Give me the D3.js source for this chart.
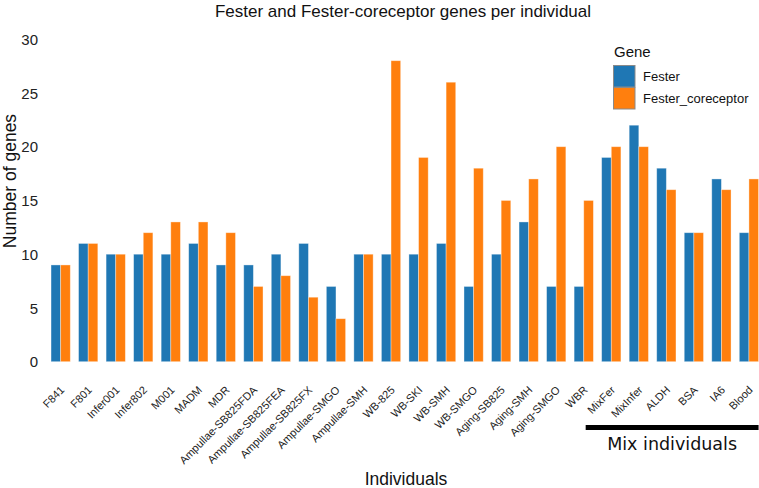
<!DOCTYPE html>
<html>
<head>
<meta charset="utf-8">
<script src="https://cdn.jsdelivr.net/npm/d3@7"></script>
<style>
  html, body { margin: 0; padding: 0; background: #fff; }
  svg { display: block; }
</style>
</head>
<body>
<svg id="chart" width="759" height="488"></svg>
<script>
const individuals = ["F841","F801","Infer001","Infer802","M001","MADM","MDR",
  "Ampullae-SB825FDA","Ampullae-SB825FEA","Ampullae-SB825FX","Ampullae-SMGO","Ampullae-SMH",
  "WB-825","WB-SKI","WB-SMH","WB-SMGO","Aging-SB825","Aging-SMH","Aging-SMGO","WBR",
  "MixFer","MixInfer","ALDH","BSA","IA6","Blood"];
const fester =      [9,11,10,10,10,11, 9, 9,10,11, 7,10,10,10,11, 7,10,13, 7, 7,19,22,18,12,17,12];
const coreceptor =  [9,11,10,12,13,13,12, 7, 8, 6, 4,10,28,19,26,18,15,17,20,15,20,20,16,12,16,17];
const genes = ["Fester","Fester_coreceptor"];
const geneColors = ["#1f77b4","#ff7f0e"];
const yTicks = [0,5,10,15,20,25,30];
const mixGroup = ["MixFer","MixInfer","ALDH","BSA","IA6","Blood"];

const data = individuals.map((name,i)=>({name, values:[fester[i], coreceptor[i]]}));

const svg = d3.select("#chart");
const font = "'Liberation Sans', Arial, sans-serif";

const x = d3.scaleBand().domain(individuals).range([46.9, 762.7]).paddingInner(0.3).paddingOuter(0.15);
const x1 = d3.scaleBand().domain(genes).range([0, x.bandwidth()]);
const y = d3.scaleLinear().domain([0,30]).range([361.7, 39.2]);
const color = d3.scaleOrdinal().domain(genes).range(geneColors);

// Title
svg.append("text").attr("x", 403).attr("y", 17).attr("text-anchor","middle")
  .style("font-family", font).style("font-size","17px").attr("fill","#111")
  .text("Fester and Fester-coreceptor genes per individual");

// Bars
const g = svg.append("g");
const groups = g.selectAll("g.grp").data(data).join("g")
  .attr("transform", d => `translate(${x(d.name)},0)`);
groups.selectAll("rect").data(d => d.values.map((v,k)=>({gene:genes[k], v}))).join("rect")
  .attr("x", d => x1(d.gene))
  .attr("width", x1.bandwidth())
  .attr("y", d => y(d.v))
  .attr("height", d => y(0) - y(d.v))
  .attr("fill", d => color(d.gene))
  .attr("stroke", "rgba(255,255,255,0.45)")
  .attr("stroke-width", 0.8);

// Y axis (no line, no ticks)
const yAxis = d3.axisLeft(y).tickValues(yTicks).tickSize(0).tickPadding(0).tickFormat(d3.format("d"));
const ya = svg.append("g").attr("transform","translate(38,0)").call(yAxis);
ya.select(".domain").remove();
ya.selectAll("text").style("font-family", font).style("font-size","15px").attr("fill","#222").attr("dy","0.35em");

// X axis labels
const xAxis = d3.axisBottom(x).tickSize(0).tickPadding(0);
const xa = svg.append("g").attr("transform","translate(0,361.7)").call(xAxis);
xa.select(".domain").remove();
xa.selectAll(".tick text")
  .style("font-family", font).style("font-size","11px").attr("fill","#222")
  .attr("text-anchor","end")
  .attr("dy", 0).attr("y", 0)
  .attr("transform", "translate(4.5,29) rotate(-45)");

// Axis titles
svg.append("text").attr("x", 406).attr("y", 485).attr("text-anchor","middle")
  .style("font-family", font).style("font-size","17.5px").attr("fill","#111").text("Individuals");
svg.append("text").attr("transform","translate(16,181) rotate(-90)").attr("text-anchor","middle")
  .style("font-family", font).style("font-size","17.5px").attr("fill","#111").text("Number of genes");

// Mix individuals annotation
const step = x.step();
const mixStart = x(mixGroup[0]) - 0.93*step + x.bandwidth()/2;
const mixEnd = x(mixGroup[mixGroup.length-1]) + x.bandwidth() + 0.0;
svg.append("line").attr("x1", mixStart).attr("x2", mixEnd).attr("y1", 427.5).attr("y2", 427.5)
  .attr("stroke","#000").attr("stroke-width",5);
svg.append("text").attr("x", (mixStart+mixEnd)/2).attr("y", 450).attr("text-anchor","middle")
  .style("font-family","'DejaVu Sans', sans-serif").style("font-size","17.5px").attr("fill","#111")
  .text("Mix individuals");

// Legend
const leg = svg.append("g").attr("transform","translate(613,0)");
leg.append("text").attr("x",1).attr("y",57).style("font-family",font).style("font-size","15px").attr("fill","#111").text("Gene");
genes.forEach((gn,i)=>{
  leg.append("rect").attr("x",0.5).attr("y",65.5+i*22).attr("width",21.5).attr("height",21.5)
    .attr("fill", color(gn)).attr("stroke","#8a8a8a").attr("stroke-width",1);
  leg.append("text").attr("x",30).attr("y",80.5+i*22).style("font-family",font).style("font-size","13px")
    .attr("fill","#111").text(gn);
});
</script>
</body>
</html>
